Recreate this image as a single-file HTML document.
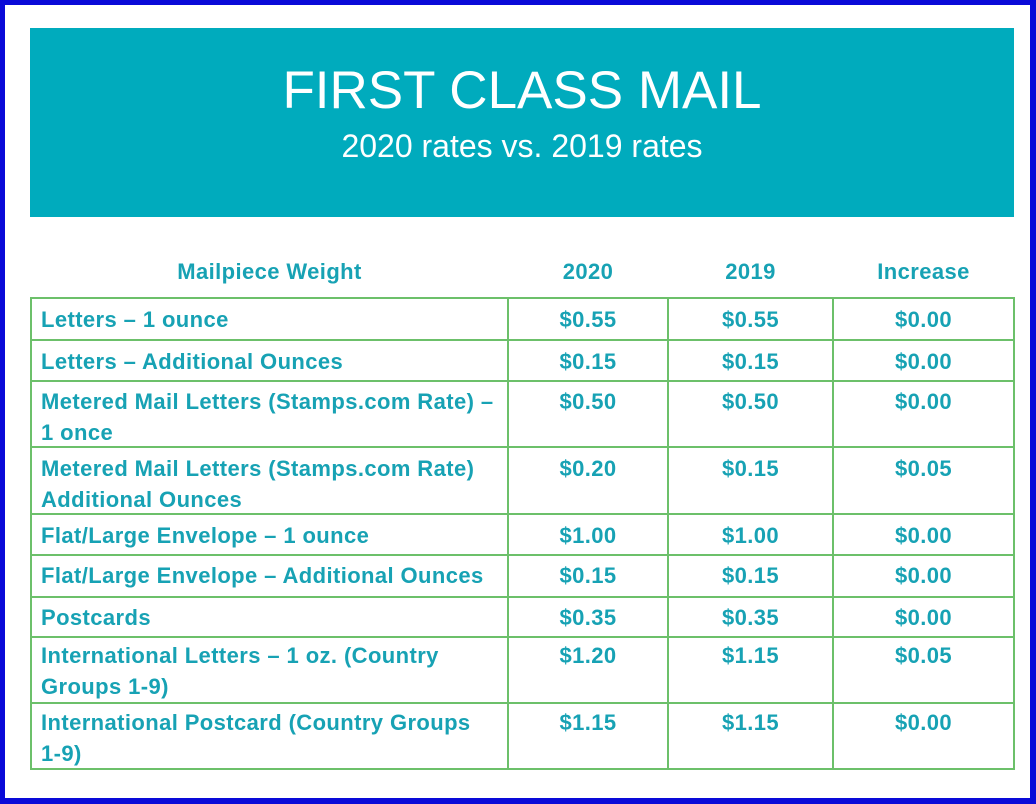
<!DOCTYPE html>
<html><head><meta charset="utf-8"><style>
body{margin:0;width:1036px;height:804px;overflow:hidden;background:#fff;font-family:"Liberation Sans",sans-serif}
.frame{position:absolute;left:0;top:0;width:1036px;height:804px;box-sizing:border-box;border:5px solid #0a0ad8;border-right-width:6px;border-bottom-width:6px}
.banner{position:absolute;left:30px;top:28px;width:984px;height:189px;background:#00abbd;color:#fff;text-align:center}
.t1{position:absolute;left:0;right:0;top:33px;font-size:53px;line-height:60px}
.t2{position:absolute;left:0;right:0;top:100px;font-size:32px;line-height:36px;font-weight:300}
.tx{position:absolute;color:#17a2b4;font-weight:bold;font-size:22px;line-height:31px;white-space:nowrap;letter-spacing:0.4px}
.c{text-align:center}
.h{position:absolute;background:#6cc06a}
</style></head><body>
<div class="frame"></div>
<div class="banner"><div class="t1">FIRST CLASS MAIL</div><div class="t2">2020 rates vs. 2019 rates</div></div>
<div class="tx c" style="left:31px;width:477px;top:256px">Mailpiece Weight</div>
<div class="tx c" style="left:508px;width:160px;top:256px">2020</div>
<div class="tx c" style="left:668px;width:165px;top:256px">2019</div>
<div class="tx c" style="left:833px;width:181px;top:256px">Increase</div>
<div class="h" style="left:30px;top:297px;width:985px;height:2px"></div>
<div class="h" style="left:30px;top:339px;width:985px;height:2px"></div>
<div class="h" style="left:30px;top:380px;width:985px;height:2px"></div>
<div class="h" style="left:30px;top:446px;width:985px;height:2px"></div>
<div class="h" style="left:30px;top:513px;width:985px;height:2px"></div>
<div class="h" style="left:30px;top:554px;width:985px;height:2px"></div>
<div class="h" style="left:30px;top:596px;width:985px;height:2px"></div>
<div class="h" style="left:30px;top:636px;width:985px;height:2px"></div>
<div class="h" style="left:30px;top:702px;width:985px;height:2px"></div>
<div class="h" style="left:30px;top:768px;width:985px;height:2px"></div>
<div class="h" style="left:30px;top:297px;width:2px;height:473px"></div>
<div class="h" style="left:507px;top:297px;width:2px;height:473px"></div>
<div class="h" style="left:667px;top:297px;width:2px;height:473px"></div>
<div class="h" style="left:832px;top:297px;width:2px;height:473px"></div>
<div class="h" style="left:1013px;top:297px;width:2px;height:473px"></div>
<div class="tx" style="left:41px;top:304px">Letters – 1 ounce</div>
<div class="tx" style="left:41px;top:346px">Letters – Additional Ounces</div>
<div class="tx" style="left:41px;top:386px">Metered Mail Letters (Stamps.com Rate) –</div>
<div class="tx" style="left:41px;top:417px">1 once</div>
<div class="tx" style="left:41px;top:453px">Metered Mail Letters (Stamps.com Rate)</div>
<div class="tx" style="left:41px;top:484px">Additional Ounces</div>
<div class="tx" style="left:41px;top:520px">Flat/Large Envelope – 1 ounce</div>
<div class="tx" style="left:41px;top:560px">Flat/Large Envelope – Additional Ounces</div>
<div class="tx" style="left:41px;top:602px">Postcards</div>
<div class="tx" style="left:41px;top:640px">International Letters – 1 oz. (Country</div>
<div class="tx" style="left:41px;top:671px">Groups 1-9)</div>
<div class="tx" style="left:41px;top:707px">International Postcard (Country Groups</div>
<div class="tx" style="left:41px;top:738px">1-9)</div>
<div class="tx c" style="left:508px;width:160px;top:304px">$0.55</div><div class="tx c" style="left:668px;width:165px;top:304px">$0.55</div><div class="tx c" style="left:833px;width:181px;top:304px">$0.00</div>
<div class="tx c" style="left:508px;width:160px;top:346px">$0.15</div><div class="tx c" style="left:668px;width:165px;top:346px">$0.15</div><div class="tx c" style="left:833px;width:181px;top:346px">$0.00</div>
<div class="tx c" style="left:508px;width:160px;top:386px">$0.50</div><div class="tx c" style="left:668px;width:165px;top:386px">$0.50</div><div class="tx c" style="left:833px;width:181px;top:386px">$0.00</div>
<div class="tx c" style="left:508px;width:160px;top:453px">$0.20</div><div class="tx c" style="left:668px;width:165px;top:453px">$0.15</div><div class="tx c" style="left:833px;width:181px;top:453px">$0.05</div>
<div class="tx c" style="left:508px;width:160px;top:520px">$1.00</div><div class="tx c" style="left:668px;width:165px;top:520px">$1.00</div><div class="tx c" style="left:833px;width:181px;top:520px">$0.00</div>
<div class="tx c" style="left:508px;width:160px;top:560px">$0.15</div><div class="tx c" style="left:668px;width:165px;top:560px">$0.15</div><div class="tx c" style="left:833px;width:181px;top:560px">$0.00</div>
<div class="tx c" style="left:508px;width:160px;top:602px">$0.35</div><div class="tx c" style="left:668px;width:165px;top:602px">$0.35</div><div class="tx c" style="left:833px;width:181px;top:602px">$0.00</div>
<div class="tx c" style="left:508px;width:160px;top:640px">$1.20</div><div class="tx c" style="left:668px;width:165px;top:640px">$1.15</div><div class="tx c" style="left:833px;width:181px;top:640px">$0.05</div>
<div class="tx c" style="left:508px;width:160px;top:707px">$1.15</div><div class="tx c" style="left:668px;width:165px;top:707px">$1.15</div><div class="tx c" style="left:833px;width:181px;top:707px">$0.00</div>
</body></html>
